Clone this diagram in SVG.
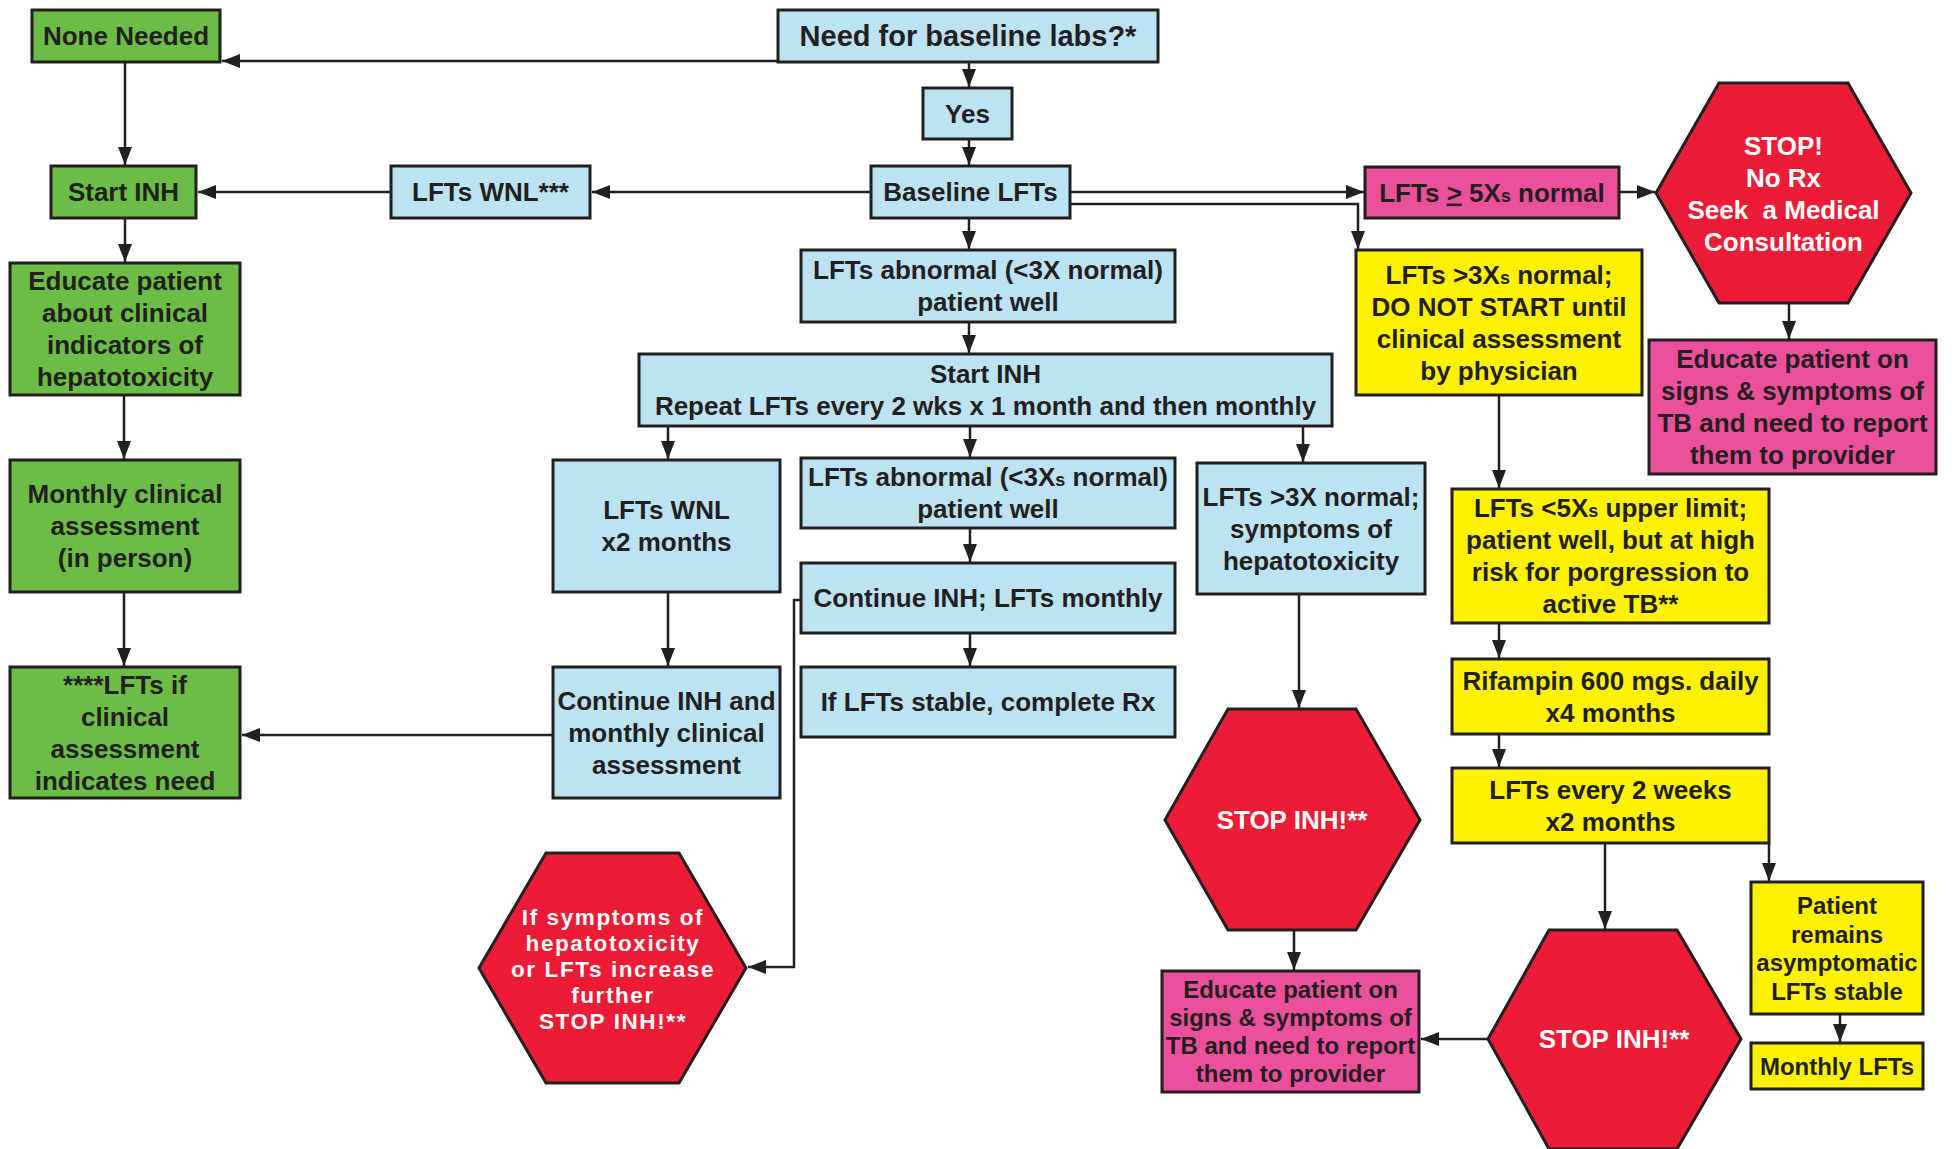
<svg xmlns="http://www.w3.org/2000/svg" width="1954" height="1149" viewBox="0 0 1954 1149">
<style>
.n rect, .n polygon {stroke:#231F20; stroke-width:3}
.g {fill:#6CBD45} .b {fill:#BBE3F3} .y {fill:#FFF200} .p {fill:#EC509C} .r {fill:#ED1C36}
text {font-family:"Liberation Sans", Arial, sans-serif; font-weight:bold; font-size:26px; fill:#231F20; text-anchor:middle}
text.w {fill:#FFFFFF}
text.sm {font-size:24px}
text.t {font-size:22.5px; letter-spacing:1.6px}
.s {font-size:18px}
.c path {stroke:#231F20; stroke-width:2.5; fill:none; marker-end:url(#ah)}
</style>
<defs>
<marker id="ah" viewBox="0 0 18 14" refX="18" refY="7" markerWidth="18" markerHeight="14" markerUnits="userSpaceOnUse" orient="auto">
<path d="M0,0 L18,7 L0,14 z" fill="#231F20"/>
</marker>
</defs>
<rect width="1954" height="1149" fill="#FFFFFF"/>

<g class="c" id="connectors">
<path d="M778,61 H222"/>
<path d="M125,62 V165"/>
<path d="M969,62 V87"/>
<path d="M969,139 V165"/>
<path d="M871,192 H592"/>
<path d="M391,192 H198"/>
<path d="M1070,192 H1364"/>
<path d="M1070,204 H1358 V249"/>
<path d="M1619,192 H1655"/>
<path d="M1789,303 V339"/>
<path d="M1499,395 V488"/>
<path d="M969,218 V249"/>
<path d="M969,322 V353"/>
<path d="M668,426 V459"/>
<path d="M970,426 V457"/>
<path d="M1303,426 V462"/>
<path d="M668,592 V666"/>
<path d="M553,735 H242"/>
<path d="M970,528 V562"/>
<path d="M970,633 V666"/>
<path d="M801,600 H794 V967 H748"/>
<path d="M125,218 V262"/>
<path d="M124,395 V459"/>
<path d="M124,592 V666"/>
<path d="M1299,594 V708"/>
<path d="M1294,930 V970"/>
<path d="M1499,623 V658"/>
<path d="M1499,734 V767"/>
<path d="M1605,843 V929"/>
<path d="M1769,843 V881"/>
<path d="M1488,1039 H1421"/>
<path d="M1840,1014 V1042"/>
</g>

<g class="n" id="none-needed"><rect class="g" x="32" y="10" width="188" height="52"/><text x="126" y="45">None Needed</text></g>
<g class="n" id="need-labs"><rect class="b" x="778" y="10" width="380" height="52"/><text x="968" y="46" style="font-size:29px">Need for baseline labs?*</text></g>
<g class="n" id="yes"><rect class="b" x="923" y="88" width="89" height="51"/><text x="967.5" y="123">Yes</text></g>
<g class="n" id="baseline"><rect class="b" x="871" y="166" width="199" height="52"/><text x="970.5" y="201">Baseline LFTs</text></g>
<g class="n" id="lfts-wnl"><rect class="b" x="391" y="166" width="199" height="52"/><text x="490.5" y="201">LFTs WNL***</text></g>
<g class="n" id="start-inh"><rect class="g" x="51" y="166" width="145" height="52"/><text x="123.5" y="201">Start INH</text></g>
<g class="n" id="educate-1"><rect class="g" x="10" y="263" width="230" height="132"/>
<text x="125" y="290">Educate patient</text><text x="125" y="322">about clinical</text><text x="125" y="354">indicators of</text><text x="125" y="386">hepatotoxicity</text></g>
<g class="n" id="monthly-assessment"><rect class="g" x="10" y="460" width="230" height="132"/>
<text x="125" y="503">Monthly clinical</text><text x="125" y="535">assessment</text><text x="125" y="567">(in person)</text></g>
<g class="n" id="lfts-if"><rect class="g" x="10" y="667" width="230" height="131"/>
<text x="125" y="693.5">****LFTs if</text><text x="125" y="725.5">clinical</text><text x="125" y="757.5">assessment</text><text x="125" y="789.5">indicates need</text></g>
<g class="n" id="abnormal-1"><rect class="b" x="801" y="250" width="374" height="72"/>
<text x="988" y="279">LFTs abnormal (&lt;3X normal)</text><text x="988" y="311">patient well</text></g>
<g class="n" id="repeat"><rect class="b" x="639" y="354" width="693" height="72"/>
<text x="985.5" y="383">Start INH</text><text x="985.5" y="415">Repeat LFTs every 2 wks x 1 month and then monthly</text></g>
<g class="n" id="wnl-2"><rect class="b" x="553" y="460" width="227" height="132"/>
<text x="666.5" y="519">LFTs WNL</text><text x="666.5" y="551">x2 months</text></g>
<g class="n" id="abnormal-2"><rect class="b" x="801" y="458" width="374" height="70"/>
<text x="988" y="486">LFTs abnormal (&lt;3X<tspan class="s">s</tspan> normal)</text><text x="988" y="518">patient well</text></g>
<g class="n" id="continue-monthly"><rect class="b" x="801" y="563" width="374" height="70"/><text x="988" y="607">Continue INH; LFTs monthly</text></g>
<g class="n" id="stable"><rect class="b" x="801" y="667" width="374" height="70"/><text x="988" y="711">If LFTs stable, complete Rx</text></g>
<g class="n" id="continue-clinical"><rect class="b" x="553" y="667" width="227" height="131"/>
<text x="666.5" y="709.5">Continue INH and</text><text x="666.5" y="741.5">monthly clinical</text><text x="666.5" y="773.5">assessment</text></g>
<g class="n" id="symptoms"><rect class="b" x="1197" y="463" width="228" height="131"/>
<text x="1311" y="505.5">LFTs &gt;3X normal;</text><text x="1311" y="537.5">symptoms of</text><text x="1311" y="569.5">hepatotoxicity</text></g>
<g class="n" id="ge5"><rect class="p" x="1365" y="167" width="254" height="51"/>
<text x="1492" y="201.5">LFTs <tspan text-decoration="underline">&gt;</tspan> 5X<tspan class="s">s</tspan> normal</text></g>
<g class="n" id="do-not-start"><rect class="y" x="1356" y="250" width="286" height="145"/>
<text x="1499" y="283.5">LFTs &gt;3X<tspan class="s">s</tspan> normal;</text><text x="1499" y="315.5">DO NOT START until</text><text x="1499" y="347.5">clinical assessment</text><text x="1499" y="379.5">by physician</text></g>
<g class="n" id="stop-consult"><polygon class="r" points="1719,83 1848,83 1911,193 1848,303 1719,303 1656,193"/>
<text class="w" x="1783.5" y="155">STOP!</text><text class="w" x="1783.5" y="187">No Rx</text><text class="w" x="1783.5" y="219" xml:space="preserve">Seek  a Medical</text><text class="w" x="1783.5" y="251">Consultation</text></g>
<g class="n" id="educate-2"><rect class="p" x="1649" y="340" width="287" height="134"/>
<text x="1792.5" y="368">Educate patient on</text><text x="1792.5" y="400">signs &amp; symptoms of</text><text x="1792.5" y="432">TB and need to report</text><text x="1792.5" y="464">them to provider</text></g>
<g class="n" id="high-risk"><rect class="y" x="1452" y="489" width="317" height="134"/>
<text x="1610.5" y="517">LFTs &lt;5X<tspan class="s">s</tspan> upper limit;</text><text x="1610.5" y="549">patient well, but at high</text><text x="1610.5" y="581">risk for porgression to</text><text x="1610.5" y="613">active TB**</text></g>
<g class="n" id="rifampin"><rect class="y" x="1452" y="659" width="317" height="75"/>
<text x="1610.5" y="689.5">Rifampin 600 mgs. daily</text><text x="1610.5" y="721.5">x4 months</text></g>
<g class="n" id="every-2-weeks"><rect class="y" x="1452" y="768" width="317" height="75"/>
<text x="1610.5" y="798.5">LFTs every 2 weeks</text><text x="1610.5" y="830.5">x2 months</text></g>
<g class="n" id="stop-inh-1"><polygon class="r" points="1228,709 1356,709 1420,820 1356,930 1228,930 1165,820"/>
<text class="w" x="1292" y="829">STOP INH!**</text></g>
<g class="n" id="educate-3"><rect class="p" x="1162" y="971" width="257" height="121"/>
<text class="sm" x="1290.5" y="998">Educate patient on</text><text class="sm" x="1290.5" y="1026">signs &amp; symptoms of</text><text class="sm" x="1290.5" y="1054">TB and need to report</text><text class="sm" x="1290.5" y="1082">them to provider</text></g>
<g class="n" id="stop-inh-2"><polygon class="r" points="1549,930 1677,930 1741,1039 1677,1149 1549,1149 1488,1039"/>
<text class="w" x="1614" y="1048">STOP INH!**</text></g>
<g class="n" id="patient-remains"><rect class="y" x="1751" y="882" width="172" height="132"/>
<text class="sm" x="1837" y="914">Patient</text><text class="sm" x="1837" y="942.5">remains</text><text class="sm" x="1837" y="971">asymptomatic</text><text class="sm" x="1837" y="999.5">LFTs stable</text></g>
<g class="n" id="monthly-lfts"><rect class="y" x="1751" y="1043" width="172" height="46"/><text class="sm" x="1837" y="1074.5">Monthly LFTs</text></g>
<g class="n" id="stop-inh-3"><polygon class="r" points="546,853 679,853 746,968 679,1083 546,1083 479,968"/>
<text class="w t" x="613" y="925">If symptoms of</text><text class="w t" x="613" y="951">hepatotoxicity</text><text class="w t" x="613" y="977">or LFTs increase</text><text class="w t" x="613" y="1003">further</text><text class="w t" x="613" y="1029">STOP INH!**</text></g>
</svg>
